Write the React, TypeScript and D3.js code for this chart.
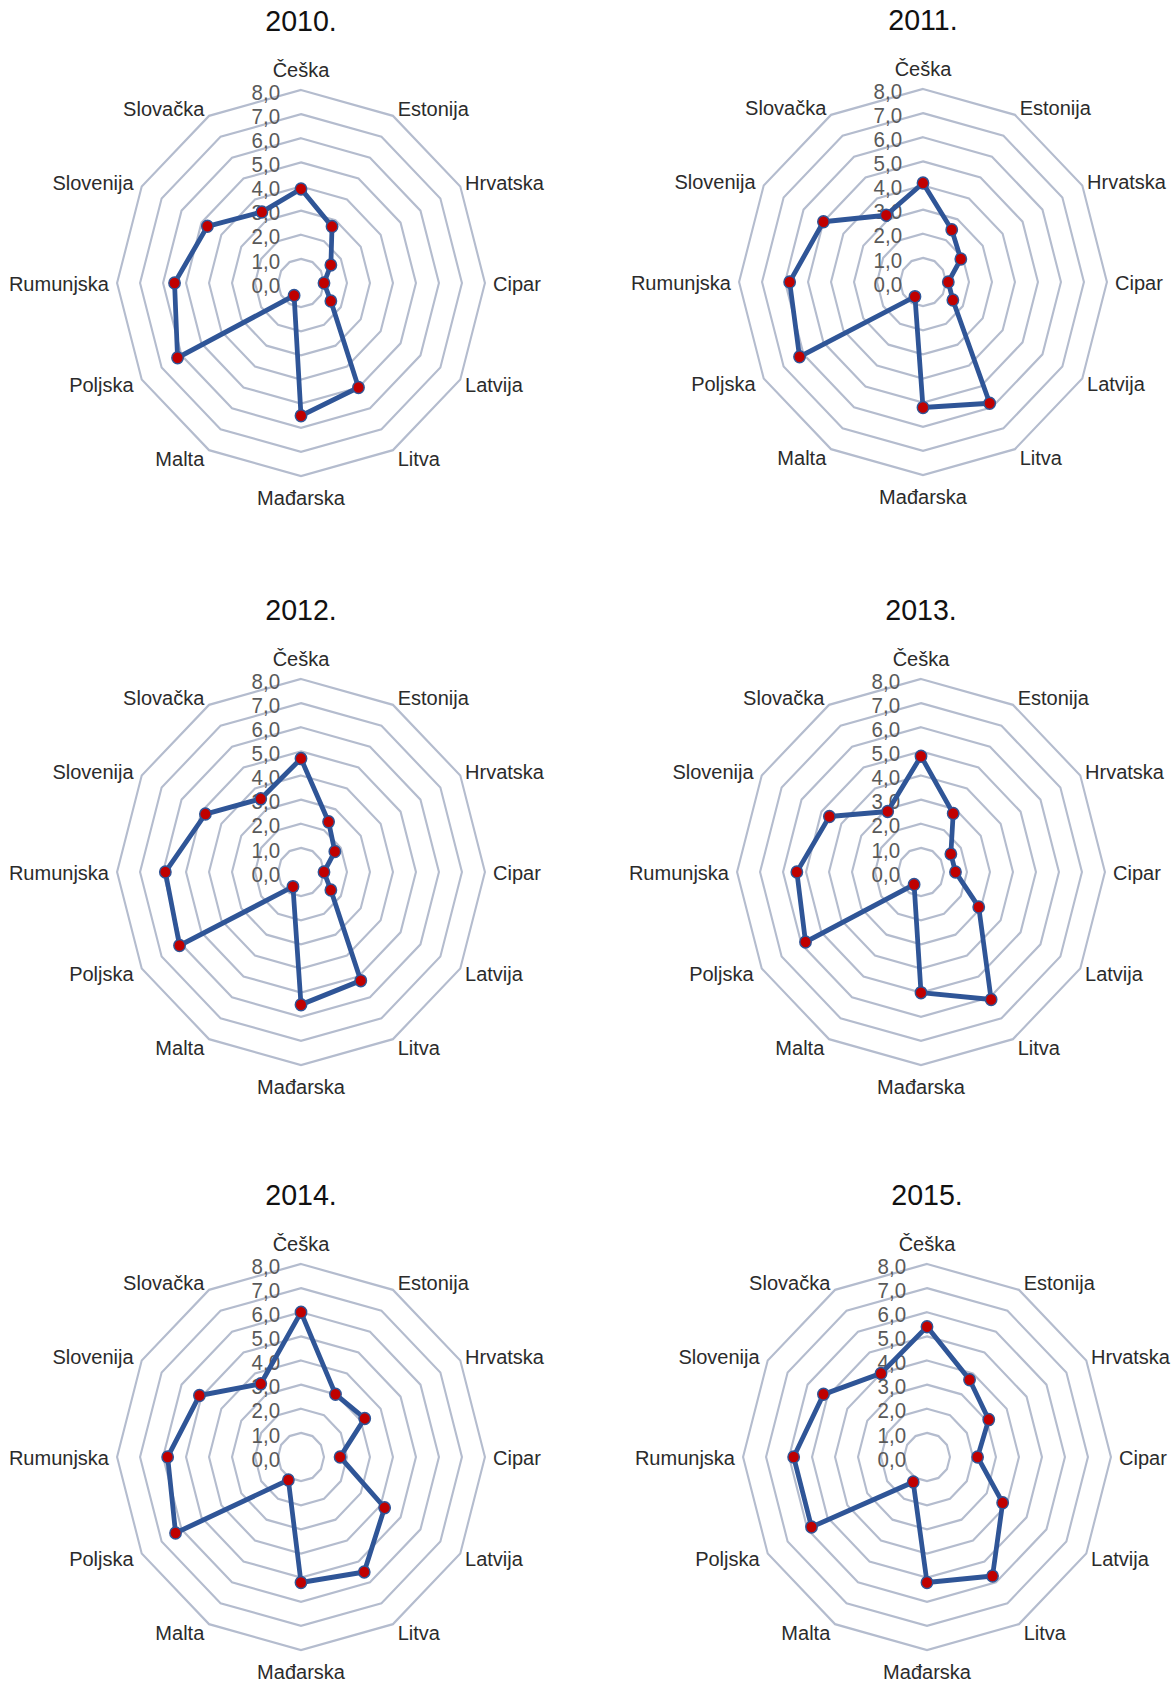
import React from "react";
import * as d3 from "d3";

const categories = ["Češka", "Estonija", "Hrvatska", "Cipar", "Latvija", "Litva", "Mađarska", "Malta", "Poljska", "Rumunjska", "Slovenija", "Slovačka"];
const years = ["2010.", "2011.", "2012.", "2013.", "2014.", "2015."];
const v2010 = [3.9, 2.7, 1.5, 1.0, 1.5, 5.0, 5.5, 0.6, 6.2, 5.5, 4.7, 3.4];
const v2011 = [4.1, 2.5, 1.9, 1.1, 1.5, 5.8, 5.2, 0.7, 6.2, 5.8, 5.0, 3.2];
const v2012 = [4.7, 2.4, 1.7, 1.0, 1.5, 5.2, 5.5, 0.7, 6.1, 5.9, 4.8, 3.5];
const v2013 = [4.8, 2.8, 1.5, 1.5, 2.9, 6.1, 5.0, 0.6, 5.8, 5.4, 4.6, 2.9];
const v2014 = [6.0, 3.0, 3.2, 1.7, 4.2, 5.5, 5.2, 1.1, 6.3, 5.8, 5.1, 3.5];
const v2015 = [5.4, 3.7, 3.1, 2.2, 3.8, 5.7, 5.2, 1.2, 5.8, 5.8, 5.2, 4.0];
const seriesByYear = [v2010, v2011, v2012, v2013, v2014, v2015];
const ticks = [0, 1, 2, 3, 4, 5, 6, 7, 8];

const centers = [
  [301, 283], [923, 282],
  [301, 872], [921, 872],
  [301, 1457], [927, 1457],
];

const R = 193;
const SX = 0.953;
const FONT = "'Liberation Sans', Arial, Helvetica, sans-serif";

function labelGap(s: number, co: number): number {
  const as = Math.abs(s);
  if (as > 0.99) return 8.5;
  if (s > 0) return 5;
  return as > 0.8 ? 8.5 : 5;
}

function Radar({ title, values, cx, cy }: { title: string; values: number[]; cx: number; cy: number }) {
  const r = d3.scaleLinear().domain([0, 8]).range([0, R]);
  const angle = d3.scalePoint<string>().domain(categories).range([0, 2 * Math.PI * (11 / 12)]);
  const pt = (c: string, v: number): [number, number] => {
    const a = angle(c) as number;
    return [r(v) * Math.sin(a), -r(v) * Math.cos(a)];
  };
  const ringLine = d3.line<[number, number]>().curve(d3.curveLinearClosed);
  const seriesPts = categories.map((c, i) => pt(c, values[i]));
  const fmt = (t: number) => d3.format(".1f")(t).replace(".", ",");
  return (
    <g transform={`translate(${cx},${cy}) scale(${SX},1)`}>
      <text x={0} y={-252} textAnchor="middle" fontSize={30} fill="#111" fontFamily={FONT}>{title}</text>
      {ticks.filter(t => t > 0).map(t => (
        <path key={t} d={ringLine(categories.map(c => pt(c, t))) as string} fill="none" stroke="#B4BCCE" strokeWidth={2.2} />
      ))}
      {ticks.map(t => (
        <text key={"t" + t} x={-22} y={-r(t) + 2} textAnchor="end" dominantBaseline="central" fontSize={21.5} fill="#595959" fontFamily={FONT}>{fmt(t)}</text>
      ))}
      {categories.map(c => {
        const a = angle(c) as number;
        const s = Math.sin(a), co = Math.cos(a);
        const vertical = Math.abs(s) < 0.01;
        const lx = R * s + (vertical ? 0 : Math.sign(s) * labelGap(s, co));
        const ly = -R * co - (vertical ? 21 : 9) * co;
        const anchor = vertical ? "middle" : s > 0 ? "start" : "end";
        return (
          <text key={c} x={lx} y={ly} textAnchor={anchor} dominantBaseline="central" fontSize={21} fill="#2b2b2b" fontFamily={FONT}>{c}</text>
        );
      })}
      <path d={ringLine(seriesPts) as string} fill="none" stroke="#2F5597" strokeWidth={5} strokeLinejoin="round" />
      {seriesPts.map((p, i) => (
        <circle key={i} cx={p[0]} cy={p[1]} r={6} fill="#C00000" stroke="#2F5597" strokeWidth={1.5} />
      ))}
    </g>
  );
}

export default function App() {
  return (
    <svg width={1176} height={1682} style={{ position: "absolute", left: 0, top: 0, display: "block", background: "#fff" }}>
      {years.map((y, i) => (
        <Radar key={y} title={y} values={seriesByYear[i]} cx={centers[i][0]} cy={centers[i][1]} />
      ))}
    </svg>
  );
}
